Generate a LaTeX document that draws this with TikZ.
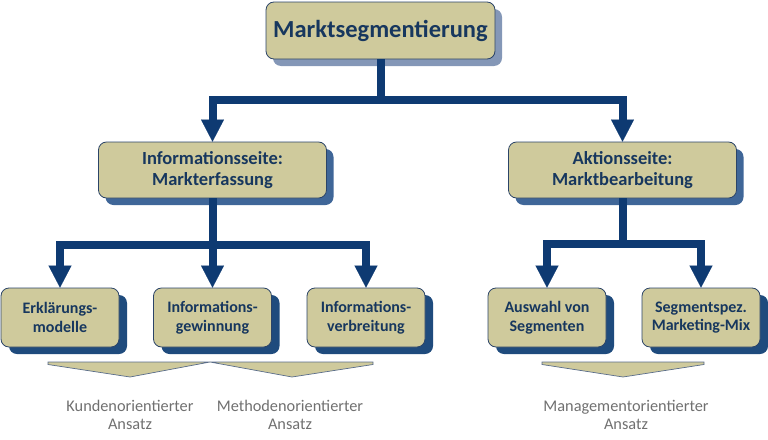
\documentclass[tikz,border=0pt]{standalone}
\usepackage{fontspec}
\setmainfont{Carlito}
\usetikzlibrary{arrows.meta,shadows}
\definecolor{boxfill}{HTML}{CFCA9C}
\definecolor{boxline}{HTML}{2B4468}
\definecolor{navy}{HTML}{0E3A72}
\definecolor{txt}{HTML}{17375E}
\definecolor{shTop}{HTML}{8497B7}
\definecolor{shMid}{HTML}{3F6698}
\definecolor{shBot}{HTML}{1F4B7D}
\definecolor{lbl}{HTML}{707070}
\definecolor{chevline}{HTML}{5A6D8A}
\begin{document}
\begin{tikzpicture}[x=1pt,y=-1pt,
  box/.style={draw=boxline, line width=0.8pt, fill=boxfill, rounded corners=8pt,
    text=txt, align=center, inner sep=0pt},
  topbox/.style={box, minimum width=229pt, minimum height=57pt,
    font=\fontsize{24.5}{28}\selectfont\bfseries,
    general shadow={fill=shTop, shadow xshift=7pt, shadow yshift=-7pt}},
  midbox/.style={box, minimum width=228pt, minimum height=56pt,
    font=\fontsize{18.5}{20.5}\selectfont\bfseries,
    general shadow={fill=shMid, shadow xshift=7pt, shadow yshift=-7pt}},
  botbox/.style={box, minimum width=118pt, minimum height=59pt,
    font=\fontsize{16}{18.5}\selectfont\bfseries,
    general shadow={fill=shBot, shadow xshift=8pt, shadow yshift=-7pt}},
  conn/.style={draw=navy, line width=8pt, line join=miter,
    -{Triangle[length=22pt,width=23pt,line width=0.1pt]}},
  chev/.style={draw=chevline, line width=0.7pt, fill=boxfill, line join=miter},
  lbltext/.style={text=lbl, align=center, font=\fontsize{16.3}{18}\selectfont, inner sep=0pt}
]
\useasboundingbox (0,0) rectangle (768,439);

\node[topbox] (top) at (380.5,30.5) {Marktsegmentierung};
\node[midbox] (mid1) at (212.5,170) {Informationsseite:\\Markterfassung};
\node[midbox] (mid2) at (622.5,170) {Aktionsseite:\\Marktbearbeitung};

\node[botbox] (b1) at (60,317.5) {Erklärungs-\\modelle};
\node[botbox] (b2) at (212.5,317.5) {Informations-\\gewinnung};
\node[botbox] (b3) at (366,317.5) {Informations-\\verbreitung};
\node[botbox] (b4) at (547,317.5) {Auswahl von\\Segmenten};
\node[botbox] (b5) at (701,317.5) {Segmentspez.\\Marketing-Mix};

\draw[conn] (top.south) -- ++(0,41) -| (mid1.north);
\draw[conn] (top.south) -- ++(0,41) -| (mid2.north);
\draw[conn] (mid1.south) -- ++(0,47) -| (b1.north);
\draw[conn] (mid1.south) -- (b2.north);
\draw[conn] (mid1.south) -- ++(0,47) -| (b3.north);
\draw[conn] (mid2.south) -- ++(0,46) -| (b4.north);
\draw[conn] (mid2.south) -- ++(0,46) -| (b5.north);

\draw[chev] (48,362) -- (210,362) -- (130,377) -- (48,364.5) -- cycle;
\draw[chev] (210,362) -- (373,362) -- (373,364.5) -- (292,377) -- cycle;
\draw[chev] (542,362) -- (704,362) -- (704,364.5) -- (623,377) -- (542,364.5) -- cycle;

\node[lbltext] (l1) at (130,415) {Kundenorientierter\\Ansatz};
\node[lbltext] (l2) at (290,415) {Methodenorientierter\\Ansatz};
\node[lbltext] (l3) at (626,415) {Managementorientierter\\Ansatz};
\end{tikzpicture}
\end{document}
